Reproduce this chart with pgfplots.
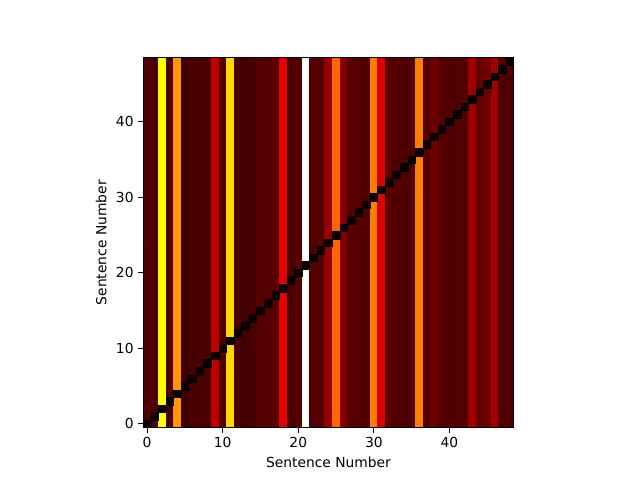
\documentclass[border=0pt]{standalone}
\usepackage{pgfplots}
\pgfplotsset{compat=1.18}
\usepackage{pgfplotstable}
\usepackage{fontspec}
\setmainfont{DejaVu Sans}
\definecolor{hotmin}{rgb}{0.0416,0,0}
\pgfplotstableread{
x y c
0 0 0.104
1 0 0.096
2 0 0.750
3 0 0.096
4 0 0.589
5 0 0.081
6 0 0.089
7 0 0.096
8 0 0.096
9 0 0.268
10 0 0.104
11 0 0.686
12 0 0.096
13 0 0.081
14 0 0.089
15 0 0.111
16 0 0.111
17 0 0.119
18 0 0.328
19 0 0.096
20 0 0.111
21 0 1.000
22 0 0.104
23 0 0.111
24 0 0.208
25 0 0.514
26 0 0.179
27 0 0.119
28 0 0.111
29 0 0.104
30 0 0.552
31 0 0.313
32 0 0.119
33 0 0.104
34 0 0.104
35 0 0.104
36 0 0.552
37 0 0.111
38 0 0.149
39 0 0.111
40 0 0.104
41 0 0.104
42 0 0.111
43 0 0.223
44 0 0.134
45 0 0.149
46 0 0.223
47 0 0.104
48 0 0.104
0 48 0.104
1 48 0.096
2 48 0.750
3 48 0.096
4 48 0.589
5 48 0.081
6 48 0.089
7 48 0.096
8 48 0.096
9 48 0.268
10 48 0.104
11 48 0.686
12 48 0.096
13 48 0.081
14 48 0.089
15 48 0.111
16 48 0.111
17 48 0.119
18 48 0.328
19 48 0.096
20 48 0.111
21 48 1.000
22 48 0.104
23 48 0.111
24 48 0.208
25 48 0.514
26 48 0.179
27 48 0.119
28 48 0.111
29 48 0.104
30 48 0.552
31 48 0.313
32 48 0.119
33 48 0.104
34 48 0.104
35 48 0.104
36 48 0.552
37 48 0.111
38 48 0.149
39 48 0.111
40 48 0.104
41 48 0.104
42 48 0.111
43 48 0.223
44 48 0.134
45 48 0.149
46 48 0.223
47 48 0.104
48 48 0.104
}\columns
\begin{document}
\begin{tikzpicture}[x=1pt,y=1pt]
\path[use as bounding box] (0,0) rectangle (462.53,346.90);
\begin{axis}[
  at={(103.56pt,37.80pt)}, anchor=south west,
  scale only axis, width=267.7pt, height=267.4pt,
  xmin=-0.5, xmax=48.5, ymin=-0.5, ymax=48.5,
  enlargelimits=false, axis on top,
  colormap={hot}{rgb(0pt)=(0.0416,0,0); rgb(365pt)=(1,0,0); rgb(746pt)=(1,1,0); rgb(1000pt)=(1,1,1)},
  point meta min=0, point meta max=1,
  xtick={0,10,20,30,40}, ytick={0,10,20,30,40},
  xtick pos=bottom, ytick pos=left,
  tick align=outside, major tick length=3.5pt,
  every tick/.style={black, line width=0.8pt},
  axis line style={line width=0.8pt},
  /pgf/number format/assume math mode=true,
  tick label style={font=\fontsize{10}{12}\selectfont},
  label style={font=\fontsize{10}{12}\selectfont},
  xlabel={Sentence Number}, ylabel={Sentence Number},
]
\addplot[matrix plot*, mesh/cols=49, mesh/rows=2, point meta=explicit] table[x=x, y=y, meta=c] {\columns};
\addplot[only marks, mark=square*, mark size=2.731pt, mark options={draw=none, fill=hotmin}] coordinates {
(0,0)(1,1)(2,2)(3,3)(4,4)(5,5)(6,6)(7,7)(8,8)(9,9)(10,10)(11,11)(12,12)(13,13)(14,14)(15,15)(16,16)(17,17)(18,18)(19,19)(20,20)(21,21)(22,22)(23,23)(24,24)(25,25)(26,26)(27,27)(28,28)(29,29)(30,30)(31,31)(32,32)(33,33)(34,34)(35,35)(36,36)(37,37)(38,38)(39,39)(40,40)(41,41)(42,42)(43,43)(44,44)(45,45)(46,46)(47,47)(48,48)
};
\end{axis}
\end{tikzpicture}
\end{document}
